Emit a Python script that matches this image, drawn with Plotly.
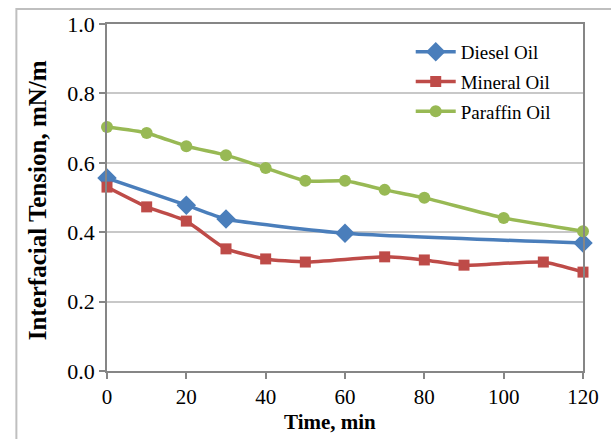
import plotly.graph_objects as go

diesel_t = [0, 20, 30, 60, 120]
diesel_v = [0.556, 0.478, 0.438, 0.397, 0.369]

mineral_t = [0, 10, 20, 30, 40, 50, 70, 80, 90, 110, 120]
mineral_v = [0.530, 0.473, 0.432, 0.352, 0.323, 0.314, 0.329, 0.320, 0.305, 0.314, 0.285]

paraffin_t = [0, 10, 20, 30, 40, 50, 60, 70, 80, 100, 120]
paraffin_v = [0.703, 0.686, 0.648, 0.622, 0.585, 0.548, 0.548, 0.522, 0.499, 0.441, 0.403]

x_ticks = [0, 20, 40, 60, 80, 100, 120]
y_ticks = [0.0, 0.2, 0.4, 0.6, 0.8, 1.0]

FONT = "Liberation Serif, Times New Roman, serif"

fig = go.Figure()
fig.add_trace(go.Scatter(x=diesel_t, y=diesel_v, name="Diesel Oil", mode="lines+markers", legendgroup="d",
                         line=dict(color="#4A7EBB", width=3.5, shape="spline", smoothing=0.5),
                         marker=dict(symbol="diamond", size=15, color="#4A7EBB"), cliponaxis=False))
fig.add_trace(go.Scatter(x=mineral_t, y=mineral_v, name="Mineral Oil", mode="lines+markers", legendgroup="m",
                         line=dict(color="#BE4B48", width=3.5, shape="spline", smoothing=0.5),
                         marker=dict(symbol="square", size=11, color="#BE4B48"), cliponaxis=False))
fig.add_trace(go.Scatter(x=paraffin_t, y=paraffin_v, name="Paraffin Oil", mode="lines+markers", legendgroup="p",
                         line=dict(color="#98B954", width=3.5, shape="spline", smoothing=0.5),
                         marker=dict(symbol="circle", size=12, color="#98B954"), cliponaxis=False))

L, R, T, B = 107, 26, 24, 68
W, H = 611, 439
pw, ph = W - L - R, H - T - B

fig.update_layout(
    width=W, height=H,
    margin=dict(l=L, r=R, t=T, b=B, pad=0),
    paper_bgcolor="white", plot_bgcolor="white",
    font=dict(family=FONT, color="black", size=20),
    showlegend=True,
    legend=dict(x=(412 - L) / pw, y=1 - (33 - T) / ph, xanchor="left", yanchor="top",
                bgcolor="rgba(0,0,0,0)", font=dict(family=FONT, size=19, color="black"),
                tracegroupgap=2, itemwidth=40),
    xaxis=dict(range=[0, 120], tickvals=x_ticks, ticktext=[str(v) for v in x_ticks],
               showgrid=False, zeroline=False, showline=True, linecolor="#868686", linewidth=1.5,
               mirror=True, ticks="outside", ticklen=6, tickcolor="#868686", tickwidth=1.5,
               tickfont=dict(family=FONT, size=21)),
    yaxis=dict(range=[0, 1.0], tickvals=y_ticks, ticktext=[f"{v:.1f}" for v in y_ticks],
               showgrid=True, gridcolor="#C8C8C8", gridwidth=1.5, zeroline=False,
               showline=True, linecolor="#868686", linewidth=1.5, mirror=True,
               ticks="outside", ticklen=6, tickcolor="#868686", tickwidth=1.5,
               tickfont=dict(family=FONT, size=22)),
)

# outer chart border
fig.add_shape(type="rect", xref="paper", yref="paper",
              x0=(16 - L) / pw, x1=(W + 20 - L) / pw,
              y0=-(H + 20 - T - ph) / ph, y1=1 + (T - 9) / ph,
              line=dict(color="#BFBFBF", width=2), fillcolor="rgba(0,0,0,0)", layer="below")

fig.add_annotation(text="<b>Time, min</b>", xref="paper", yref="paper",
                   x=(331 - L) / pw, y=-(422 - T - ph) / ph, showarrow=False,
                   xanchor="center", yanchor="middle", font=dict(family=FONT, size=21, color="black"))
fig.add_annotation(text="<b>Interfacial Tension, mN/m</b>", xref="paper", yref="paper",
                   x=(37 - L) / pw, y=1 - (200 - T) / ph, showarrow=False, textangle=-90,
                   xanchor="center", yanchor="middle", font=dict(family=FONT, size=25, color="black"))

fig.write_html("out.html", config={"displayModeBar": False},
               post_script="document.body.style.margin='0';document.body.style.overflow='hidden';")
